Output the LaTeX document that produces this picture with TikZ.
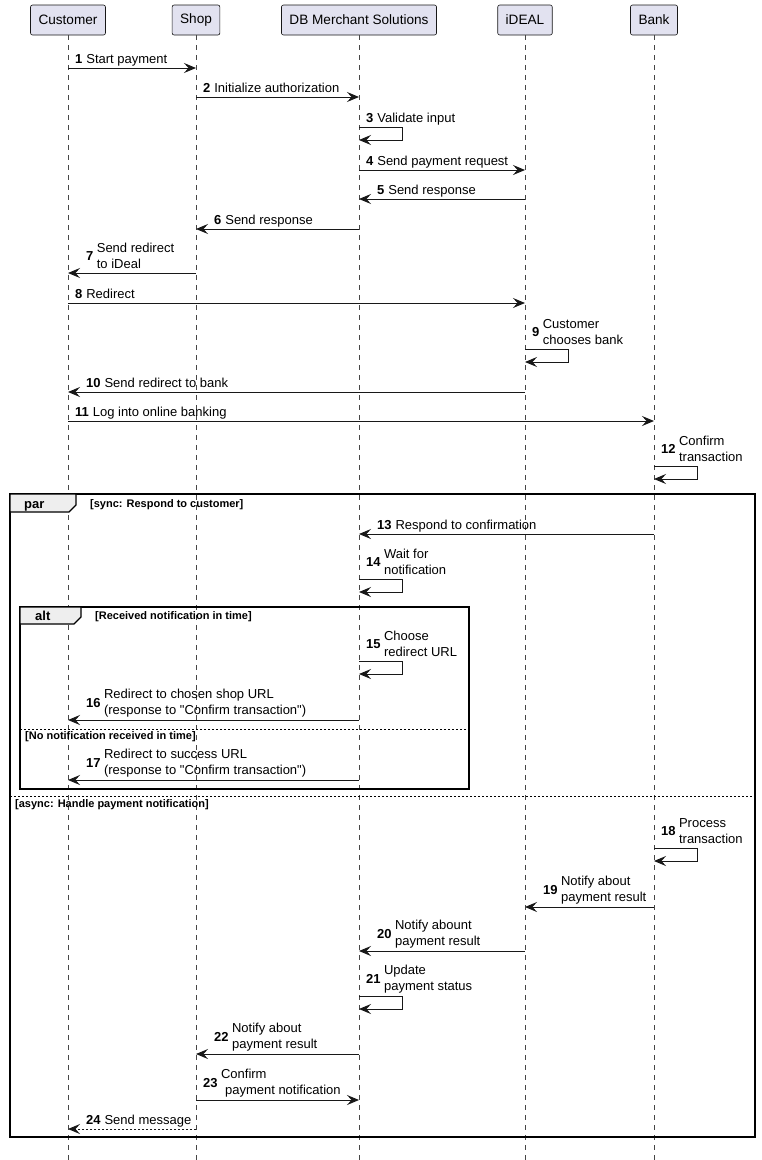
\documentclass[tikz,border=0pt]{standalone}
\usepackage{fontspec}
\setmainfont{Liberation Sans}[Ligatures=TeXOff]
\usetikzlibrary{arrows.meta,calc}
\definecolor{partfill}{HTML}{E2E2F0}
\definecolor{ink}{HTML}{181818}
\definecolor{tabfill}{HTML}{EEEEEE}
\begin{document}
\begin{tikzpicture}[x=1pt,y=-1pt,
  part/.style={draw=ink, fill=partfill, line width=0.6pt, rounded corners=2pt,
    minimum height=30pt, inner xsep=8pt, inner ysep=0pt, font=\fontsize{13.6}{16}\selectfont},
  life/.style={draw=ink!80, line width=0.5pt, dash pattern=on 5pt off 5pt},
  msg/.style={draw=ink, line width=1pt, -{Stealth[length=12pt,width=10pt,inset=4.5pt]}},
  retmsg/.style={msg, dash pattern=on 2pt off 2pt},
  num/.style={font=\fontsize{13}{16}\selectfont\bfseries, inner sep=0pt},
  lbl/.style={font=\fontsize{13}{16}\selectfont, inner sep=0pt, align=left},
  frame/.style={draw=black, line width=1.5pt},
  tab/.style={draw=black, fill=tabfill, line width=1.2pt},
  tabtxt/.style={font=\fontsize{13}{16}\selectfont\bfseries, inner sep=0pt},
  guard/.style={font=\fontsize{11}{13}\selectfont\bfseries, inner sep=0pt},
  sep/.style={draw=black, line width=0.8pt, dash pattern=on 2pt off 2pt},
]
\useasboundingbox[fill=white] (0,0) rectangle (761,1160);

% participants
\node[part] (cust) at (68,20) {Customer};
\node[part] (shop) at (196,20) {Shop};
\node[part] (db) at (359,20) {DB Merchant Solutions};
\node[part] (ideal) at (525,20) {iDEAL};
\node[part] (bank) at (654,20) {Bank};
\coordinate (bottom) at (0,1160);
\foreach \p in {cust,shop,db,ideal,bank}
  \draw[life] (\p.south) -- (\p |- bottom);

% frames
\draw[frame] (10,494) rectangle (755,1137);
\draw[tab] (10,494) -- (76,494) -- (76,505) -- (69,512) -- (10,512) -- cycle;
\node[tabtxt, anchor=base west] (partxt) at (24,508) {par};
\node[guard, anchor=base west] (g1) at (90,507) {[sync: Respond to customer]};
\draw[sep] (10,796) -- (755,796);
\node[guard, anchor=base west] (g3) at (15,807) {[async: Handle payment notification]};

\draw[frame] (20,607) rectangle (469,789);
\draw[tab] (20,607) -- (81,607) -- (81,617) -- (74,624) -- (20,624) -- cycle;
\node[tabtxt, anchor=base west] (alttxt) at (35,620) {alt};
\node[guard, anchor=base west] (g2) at (95,619) {[Received notification in time]};
\draw[sep] (20,729) -- (469,729);
\node[guard, anchor=base west] (g4) at (25,739) {[No notification received in time]};

% message label macros
\newcommand{\mlabel}[4]{% x, y(arrow), num, text ; single line
  \node[num, anchor=base west] (n#3) at (#1,#2-5) {#3};
  \node[lbl, anchor=base west] (t#3) at ($(n#3.base east)+(3.5,0)$) {#4};}
\newcommand{\mlabelii}[4]{% x, y(arrow), num, two-line text
  \node[num, anchor=west] (n#3) at (#1,#2-17) {#3};
  \node[lbl, anchor=west] (t#3) at ($(n#3.east)+(3,0)$) {#4};}

% rows
\foreach \n/\y in {1/68,2/97,3/127,3b/140,4/170,5/199,6/229,7/273,8/303,9/349,9b/362,10/392,11/421,12/466,12b/479,
  13/534,14/579,14b/592,15/661,15b/674,16/720,17/780,18/848,18b/861,19/907,20/951,21/996,21b/1009,22/1054,23/1100,24/1129}
  \coordinate (r\n) at (0,\y);

% 1
\draw[msg] (cust |- r1) -- (shop |- r1);
\mlabel{75}{68}{1}{Start payment}
% 2
\draw[msg] (shop |- r2) -- (db |- r2);
\mlabel{203}{97}{2}{Initialize authorization}
% 3
\coordinate (l3) at ($(db |- r3)+(43,0)$);
\draw[msg] (db |- r3) -- (l3) -- (l3 |- r3b) -- (db |- r3b);
\mlabel{366}{127}{3}{Validate input}
% 4
\draw[msg] (db |- r4) -- (ideal |- r4);
\mlabel{366}{170}{4}{Send payment request}
% 5
\draw[msg] (ideal |- r5) -- (db |- r5);
\mlabel{377}{199}{5}{Send response}
% 6
\draw[msg] (db |- r6) -- (shop |- r6);
\mlabel{214}{229}{6}{Send response}
% 7
\draw[msg] (shop |- r7) -- (cust |- r7);
\mlabelii{86}{273}{7}{Send redirect\\to iDeal}
% 8
\draw[msg] (cust |- r8) -- (ideal |- r8);
\mlabel{75}{303}{8}{Redirect}
% 9
\coordinate (l9) at ($(ideal |- r9)+(43,0)$);
\draw[msg] (ideal |- r9) -- (l9) -- (l9 |- r9b) -- (ideal |- r9b);
\mlabelii{532}{349}{9}{Customer\\chooses bank}
% 10
\draw[msg] (ideal |- r10) -- (cust |- r10);
\mlabel{86}{392}{10}{Send redirect to bank}
% 11
\draw[msg] (cust |- r11) -- (bank |- r11);
\mlabel{75}{421}{11}{Log into online banking}
% 12
\coordinate (l12) at ($(bank |- r12)+(43,0)$);
\draw[msg] (bank |- r12) -- (l12) -- (l12 |- r12b) -- (bank |- r12b);
\mlabelii{661}{466}{12}{Confirm\\transaction}
% 13
\draw[msg] (bank |- r13) -- (db |- r13);
\mlabel{377}{534}{13}{Respond to confirmation}
% 14
\coordinate (l14) at ($(db |- r14)+(43,0)$);
\draw[msg] (db |- r14) -- (l14) -- (l14 |- r14b) -- (db |- r14b);
\mlabelii{366}{579}{14}{Wait for\\notification}
% 15
\coordinate (l15) at ($(db |- r15)+(43,0)$);
\draw[msg] (db |- r15) -- (l15) -- (l15 |- r15b) -- (db |- r15b);
\mlabelii{366}{661}{15}{Choose\\redirect URL}
% 16
\draw[msg] (db |- r16) -- (cust |- r16);
\mlabelii{86}{720}{16}{Redirect to chosen shop URL\\(response to "Confirm transaction")}
% 17
\draw[msg] (db |- r17) -- (cust |- r17);
\mlabelii{86}{780}{17}{Redirect to success URL\\(response to "Confirm transaction")}
% 18
\coordinate (l18) at ($(bank |- r18)+(43,0)$);
\draw[msg] (bank |- r18) -- (l18) -- (l18 |- r18b) -- (bank |- r18b);
\mlabelii{661}{848}{18}{Process\\transaction}
% 19
\draw[msg] (bank |- r19) -- (ideal |- r19);
\mlabelii{543}{907}{19}{Notify about\\payment result}
% 20
\draw[msg] (ideal |- r20) -- (db |- r20);
\mlabelii{377}{951}{20}{Notify abount\\payment result}
% 21
\coordinate (l21) at ($(db |- r21)+(43,0)$);
\draw[msg] (db |- r21) -- (l21) -- (l21 |- r21b) -- (db |- r21b);
\mlabelii{366}{996}{21}{Update\\payment status}
% 22
\draw[msg] (db |- r22) -- (shop |- r22);
\mlabelii{214}{1054}{22}{Notify about\\payment result}
% 23
\draw[msg] (shop |- r23) -- (db |- r23);
\mlabelii{203}{1100}{23}{Confirm\\\hspace*{4pt}payment notification}
% 24
\draw[retmsg] (shop |- r24) -- (cust |- r24);
\mlabel{86}{1129}{24}{Send message}
\end{tikzpicture}
\end{document}
